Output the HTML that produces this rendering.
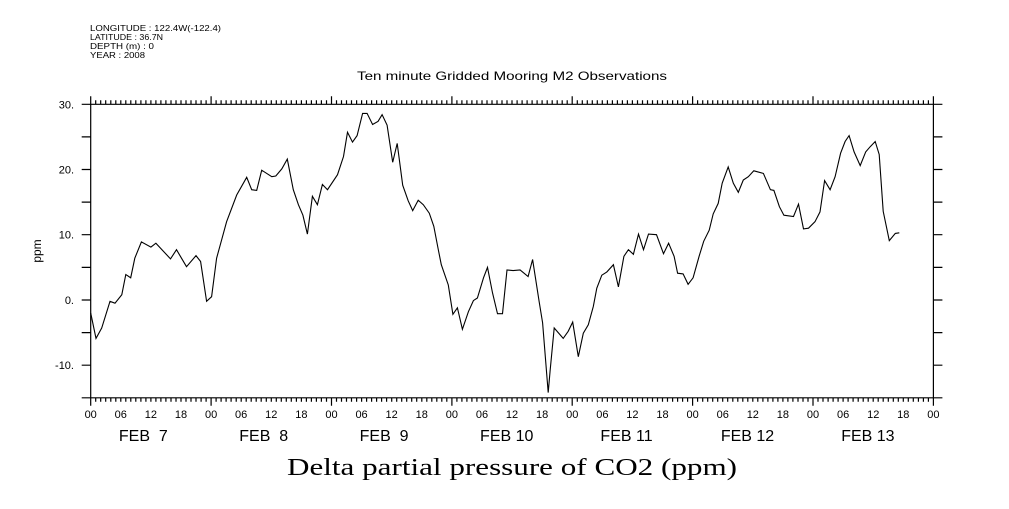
<!DOCTYPE html>
<html><head><meta charset="utf-8"><style>
body{margin:0;background:#fff;width:1009px;height:504px;overflow:hidden}
svg text{font-family:"Liberation Sans",sans-serif;fill:#000}
</style></head><body>
<svg id="chart" width="1009" height="504" viewBox="0 0 1009 504" xmlns="http://www.w3.org/2000/svg">
<g font-size="8.5">
<text x="90" y="31" textLength="131" lengthAdjust="spacingAndGlyphs">LONGITUDE : 122.4W(-122.4)</text>
<text x="90" y="40" textLength="73" lengthAdjust="spacingAndGlyphs">LATITUDE : 36.7N</text>
<text x="90" y="49" textLength="64" lengthAdjust="spacingAndGlyphs">DEPTH (m) : 0</text>
<text x="90" y="58" textLength="55" lengthAdjust="spacingAndGlyphs">YEAR : 2008</text>
</g>
<text x="357" y="80" font-size="12" textLength="310" lengthAdjust="spacingAndGlyphs">Ten minute Gridded Mooring M2 Observations</text>
<text x="287" y="475" font-size="24" textLength="450" lengthAdjust="spacingAndGlyphs" style="font-family:'Liberation Serif',serif">Delta partial pressure of CO2 (ppm)</text>
<text transform="translate(41,251) rotate(-90)" font-size="12" text-anchor="middle">ppm</text>
<g id="axes"></g>
<path id="line" fill="none" stroke="#000" stroke-width="1.1"/>
</svg>
<script>
const hours=[0,1.06,2.2,3.85,4.85,6.2,7,7.97,8.8,10.1,12,13,15.9,17.1,18.1,19.1,21,21.9,23.1,24.1,25.1,26.1,27.1,29.1,31.1,32.1,33.1,34.1,36.1,36.9,38.1,39.2,40.4,41.4,42.3,43.2,44.2,45.2,46.2,47.2,49.2,50.4,51.2,52.2,53.1,54.2,55.1,56.2,57.3,58.1,59.1,60.2,61.1,62.2,63.3,64.2,65.3,66.3,67.5,68.4,69.3,69.9,71.3,72.2,73.1,74.1,75.3,76.3,77.1,78.3,79.1,80.1,81.1,82.1,83.0,84.2,85.6,87.2,88.1,89.4,90.1,91.2,91.6,92.4,94.2,95.2,96.1,97.2,98.2,99.2,100.2,100.9,101.9,102.9,104.2,105.2,106.3,107.2,108.2,109.2,110.2,111.2,112.8,114.2,115.2,116.3,117,118.1,119.1,120.1,121.3,122.2,123.3,124.1,125.1,125.9,127.1,128.1,129.1,130.1,131.1,132.2,134.1,135.5,136.2,137.3,138.2,140.1,141.1,142.1,143.1,144.4,145.4,146.3,147.4,148.4,149.5,150.4,151.2,152.2,153.4,154.5,155.4,156.4,157.2,158,159.2,160.4,161.2];
const values=[-2,-5.9,-4.3,-0.2,-0.5,0.8,3.9,3.4,6.4,8.9,8.1,8.7,6.3,7.7,6.4,5.1,6.8,5.9,-0.2,0.5,6.4,9.2,12,16.1,18.8,16.9,16.8,19.9,18.9,19,20.1,21.6,16.9,14.6,13,10.1,15.9,14.6,17.7,16.9,19.2,22,25.7,24.2,25.2,28.6,28.6,26.9,27.4,28.4,26.8,21.1,24,17.6,15.2,13.7,15.3,14.6,13.3,11.3,7.7,5.4,2.3,-2.2,-1.2,-4.5,-1.8,-0.1,0.3,3.4,5,1.1,-2.1,-2.1,4.6,4.5,4.6,3.6,6.2,-0.2,-3.5,-14.2,-10.7,-4.3,-5.9,-4.8,-3.4,-8.7,-5.1,-3.8,-1,1.8,3.8,4.3,5.4,2,6.7,7.7,7,10.1,7.7,10.1,10,7.1,8.7,6.7,4.1,4,2.4,3.4,6.7,9,10.7,13.2,14.8,17.9,20.4,17.9,16.5,18.4,18.9,19.8,19.4,16.9,16.8,14.3,13,12.8,14.7,10.9,11,12,13.5,18.3,16.9,18.9,22.5,24.3,25.2,22.7,20.6,22.7,23.5,24.3,22.3,13.6,9.1,10.2,10.3];
const yTickLabels=["30.","20.","10.","0.","-10."];
const yTickValues=[30,20,10,0,-10];
const dayLabels=["FEB  7","FEB  8","FEB  9","FEB 10","FEB 11","FEB 12","FEB 13"];
const hourLabels=["00","06","12","18"];
const X0=90.7,X1=933.4,Y0=104.3,Y1=397.8,HMAX=168,VMAX=30,VMIN=-15;
function sx(h){return X0+(X1-X0)*h/HMAX;}
function sy(v){return Y0+(Y1-Y0)*(VMAX-v)/(VMAX-VMIN);}
const NS="http://www.w3.org/2000/svg";
const ax=document.getElementById('axes');
function mk(tag,attrs,txt){const e=document.createElementNS(NS,tag);for(const k in attrs)e.setAttribute(k,attrs[k]);if(txt!==undefined)e.textContent=txt;ax.appendChild(e);return e;}
let d=`M${X0},${Y0}H${X1}V${Y1}H${X0}Z`;
for(let h=0;h<=HMAX;h++){const x=sx(h).toFixed(1);const L=h%24===0?8:4;d+=`M${x},${Y0}v${-L}M${x},${Y1}v${L}`;}
for(let v=VMIN;v<=VMAX;v+=5){const y=sy(v).toFixed(1);d+=`M${X0},${y}h-9M${X1},${y}h9`;}
const fr=mk('path',{d:d,fill:'none',stroke:'#000','stroke-width':1.2});


yTickValues.forEach((v,i)=>{const t=mk('text',{x:74,y:sy(v)+4,'font-size':11,'text-anchor':'end'},yTickLabels[i]);

});
for(let h=0;h<=HMAX;h+=6){const t=mk('text',{x:sx(h),y:418,'font-size':11,'text-anchor':'middle'},hourLabels[(h/6)%4]);

}
dayLabels.forEach((s,i)=>{const t=mk('text',{x:sx(i*24+12)-32,y:441,'font-size':16},s);
t.style.whiteSpace='pre';

});
document.getElementById('line').setAttribute('d',hours.map((h,i)=>(i?'L':'M')+sx(h).toFixed(1)+','+sy(values[i]).toFixed(1)).join(''));
</script>
</body></html>
